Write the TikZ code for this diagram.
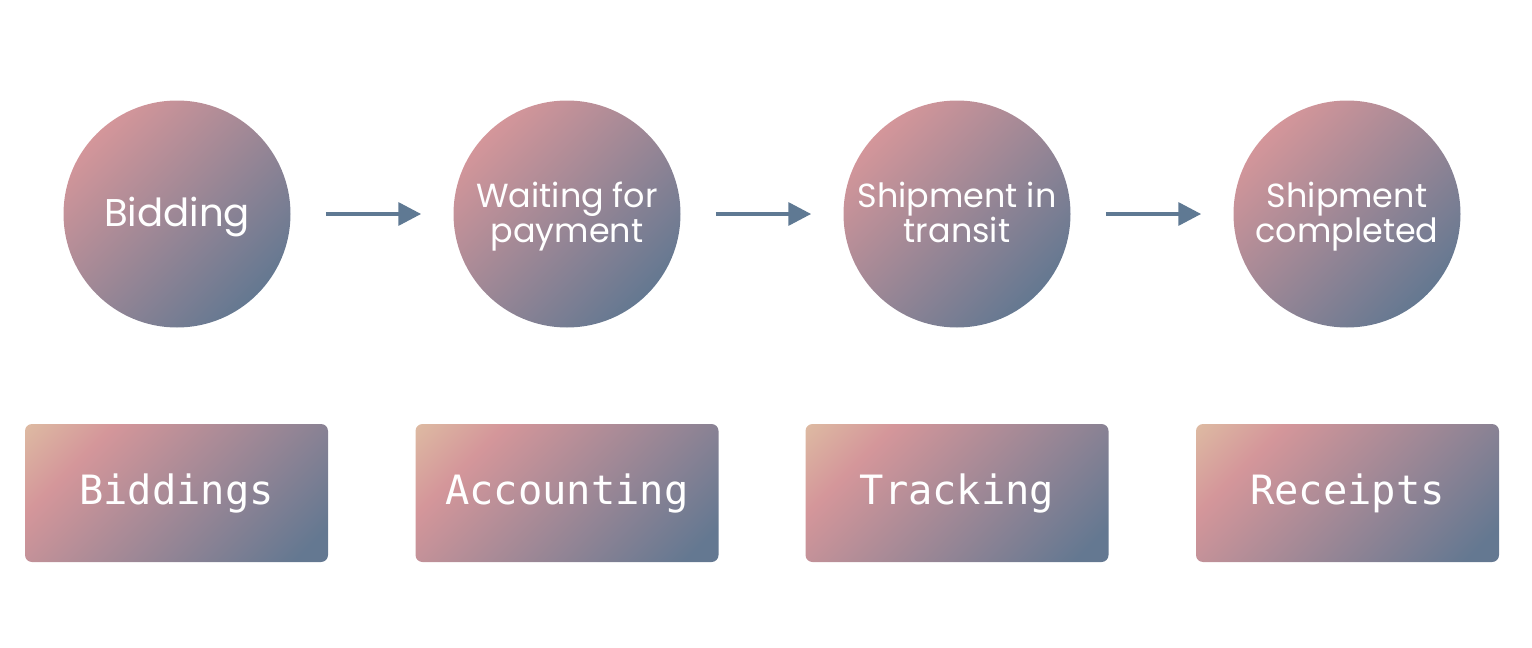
\documentclass[tikz,border=0pt]{standalone}
\usepackage{fontspec}
\setmainfont{Poppins}
\setmonofont{DejaVu Sans Mono}
\usepackage{xcolor}
\usetikzlibrary{positioning,
	arrows.meta,
	shadings}

\definecolor{roseshade}{HTML}{D4969A}
\definecolor{slateshade}{HTML}{647891}
\definecolor{sandshade}{HTML}{DDB9A2}
\definecolor{arrowblue}{HTML}{5F7993}

\pgfdeclarehorizontalshading{circlefade}{100bp}{color(0bp)=(roseshade); color(25bp)=(roseshade); color(75bp)=(slateshade); color(100bp)=(slateshade)}
\pgfdeclarehorizontalshading{boxfade}{100bp}{color(0bp)=(sandshade); color(15bp)=(sandshade); color(29bp)=(roseshade); color(80bp)=(slateshade); color(100bp)=(slateshade)}

\tikzset{
	stage/.style={circle, shade, shading=circlefade, shading angle=-45, minimum size=4.54cm, inner sep=0pt, text=white, align=center, text depth=0.2em, font=\fontsize{19}{20}\selectfont},
	module/.style={rectangle, rounded corners=0.14cm, shade, shading=boxfade, shading angle=-45, minimum width=6.06cm, minimum height=2.76cm, inner sep=0pt, text=white, font=\ttfamily\fontsize{23}{23}\selectfont},
	flow/.style={-{Triangle[length=13pt,width=13pt]}, line width=2.2pt, draw=arrowblue, shorten <=0.7cm, shorten >=0.64cm}
}

\begin{document}
\begin{tikzpicture}[scale=1, transform shape]
	\useasboundingbox (0,0) rectangle (30.64,-12.96);
	% stages
	\node (bidding) [stage, font=\fontsize{22}{22}\selectfont] at (3.54,-4.28) {Bidding};
	\node (waiting) [stage] at (11.34,-4.28) {Waiting for\\payment};
	\node (transit) [stage] at (19.14,-4.28) {Shipment in\\transit};
	\node (completed) [stage] at (26.94,-4.28) {Shipment\\completed};
	\draw[flow] (bidding) -- (waiting);
	\draw[flow] (waiting) -- (transit);
	\draw[flow] (transit) -- (completed);
	% modules
	\node (biddings) [module] at (3.53,-9.86) {Biddings};
	\node (accounting) [module] at (11.34,-9.86) {Accounting};
	\node (tracking) [module] at (19.14,-9.86) {Tracking};
	\node (receipts) [module] at (26.95,-9.86) {Receipts};
\end{tikzpicture}
\end{document}
